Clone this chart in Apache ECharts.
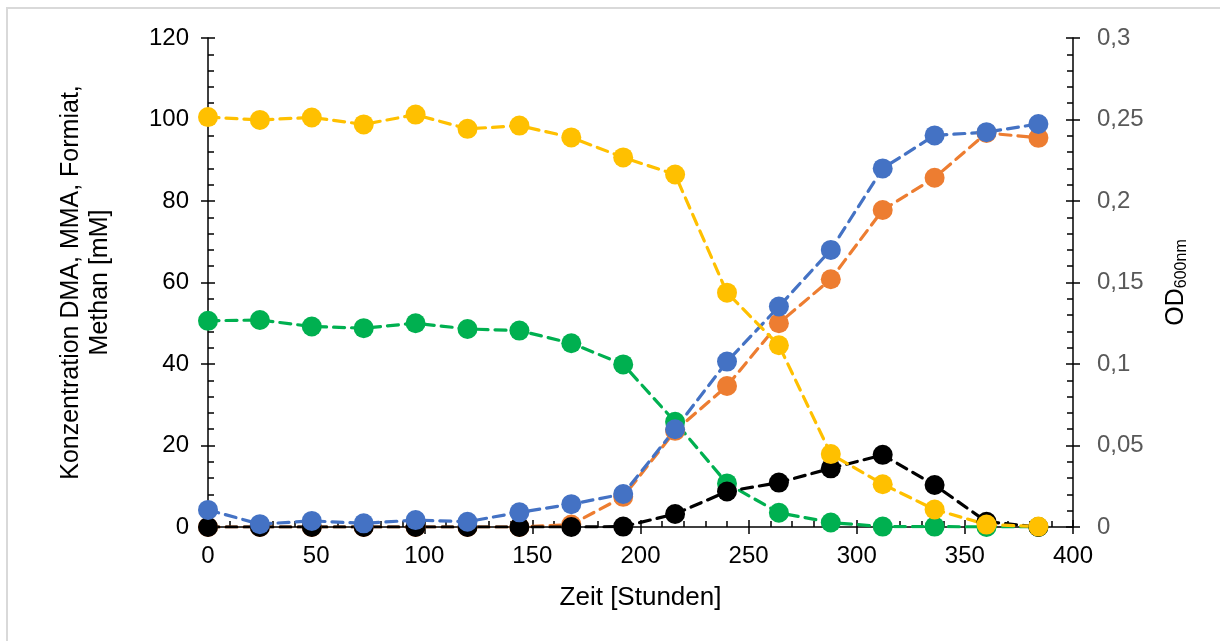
<!DOCTYPE html>
<html>
<head>
<meta charset="utf-8">
<script src="https://cdn.jsdelivr.net/npm/echarts@6/dist/echarts.min.js"></script>
<style>
html,body{margin:0;padding:0;background:#fff;}
#chart{width:1220px;height:641px;}
</style>
</head>
<body>
<div id="chart"></div>
<script>
// Time points [h]
const hours = [0, 24, 48, 72, 96, 120, 144, 168, 192, 216, 240, 264, 288, 312, 336, 360, 384];
// Series values [mM]
const yellowVals = [100.6, 99.9, 100.5, 98.8, 101.2, 97.7, 98.5, 95.6, 90.7, 86.5, 57.5, 44.6, 17.9, 10.5, 4.3, 0.6, 0.1];
const greenVals  = [50.6, 50.8, 49.2, 48.8, 50.0, 48.6, 48.2, 45.1, 39.9, 25.8, 10.7, 3.5, 1.1, 0.1, 0.1, 0, 0];
const orangeVals = [0, 0, 0, 0, 0, 0, 0, 0.6, 7.4, 23.6, 34.6, 50.0, 60.8, 77.8, 85.7, 96.7, 95.5];
const blueVals   = [4.2, 0.7, 1.5, 0.9, 1.7, 1.3, 3.6, 5.6, 8.1, 24.0, 40.6, 54.1, 68.0, 88.0, 96.1, 96.9, 98.9];
const blackVals  = [0, 0, 0, 0, 0, 0, 0, 0, 0.1, 3.2, 8.7, 10.9, 14.4, 17.7, 10.3, 1.3, 0];
// Axis settings
const xTicks = {min: 0, max: 400, interval: 50};
const leftTicks = {min: 0, max: 120, interval: 20};
const rightTicks = {min: 0, max: 0.3, interval: 0.05};

const pairs = v => hours.map((h, i) => [h, v[i]]);
const FONT = 'Liberation Sans, Arial, sans-serif';

function mk(name, vals, color) {
  return {
    name: name, type: 'line', xAxisIndex: 0, yAxisIndex: 0,
    data: pairs(vals),
    symbol: 'circle', symbolSize: 20,
    itemStyle: {color: color, borderWidth: 0, opacity: 1},
    emphasis: {disabled: true},
    lineStyle: {color: color, width: 3.2, type: [11, 7], cap: 'round'},
    animation: false
  };
}

const chart = echarts.init(document.getElementById('chart'));
const axisLineStyle = {color: '#000', width: 1.5};
chart.setOption({
  backgroundColor: '#fff',
  animation: false,
  grid: {left: 208, right: 147, top: 38, bottom: 114},
  graphic: [{type: 'rect', shape: {x: 7, y: 8, width: 1400, height: 800}, style: {fill: 'none', stroke: '#d9d9d9', lineWidth: 2}, silent: true}],
  xAxis: [
    {type: 'value', position: 'bottom', min: xTicks.min, max: xTicks.max, interval: xTicks.interval,
     axisLine: {show: true, onZero: false, lineStyle: axisLineStyle},
     axisTick: {show: true, inside: false, length: 7, lineStyle: axisLineStyle},
     axisLabel: {color: '#000', fontSize: 24, fontFamily: FONT, margin: 17},
     splitLine: {show: false},
     name: 'Zeit [Stunden]', nameLocation: 'middle', nameGap: 58,
     nameTextStyle: {color: '#000', fontSize: 26, fontFamily: FONT}},
    {type: 'value', position: 'bottom', min: xTicks.min, max: xTicks.max, interval: xTicks.interval,
     axisLine: {show: false, onZero: false},
     axisTick: {show: true, inside: true, length: 7, lineStyle: axisLineStyle},
     minorTick: {show: true, splitNumber: 5, length: 6, lineStyle: {color: '#000', width: 1.5}},
     axisLabel: {show: false}, splitLine: {show: false}}
  ],
  yAxis: [
    {type: 'value', position: 'left', min: leftTicks.min, max: leftTicks.max, interval: leftTicks.interval,
     axisLine: {show: true, onZero: false, lineStyle: axisLineStyle},
     axisTick: {show: true, inside: false, length: 7, lineStyle: axisLineStyle},
     axisLabel: {color: '#000', fontSize: 24, fontFamily: FONT, margin: 19},
     splitLine: {show: false},
     name: 'Konzentration DMA, MMA, Formiat,\nMethan [mM]', nameLocation: 'middle', nameRotate: 90, nameGap: 93,
     nameTextStyle: {color: '#000', fontSize: 25, fontFamily: FONT, lineHeight: 29}},
    {type: 'value', position: 'left', min: leftTicks.min, max: leftTicks.max, interval: leftTicks.interval,
     axisLine: {show: false, onZero: false},
     axisTick: {show: true, inside: true, length: 7, lineStyle: axisLineStyle},
     minorTick: {show: true, splitNumber: 5, length: 6, lineStyle: {color: '#000', width: 1.5}},
     axisLabel: {show: false}, splitLine: {show: false}},
    {type: 'value', position: 'right', min: rightTicks.min, max: rightTicks.max, interval: rightTicks.interval,
     axisLine: {show: true, onZero: false, lineStyle: axisLineStyle},
     axisTick: {show: true, inside: false, length: 7, lineStyle: axisLineStyle},
     axisLabel: {color: '#595959', fontSize: 24, fontFamily: FONT, margin: 24,
       formatter: v => String(Math.round(v * 100) / 100).replace('.', ',')},
     splitLine: {show: false},
     name: '{a|OD}{b|600nm}', nameLocation: 'middle', nameRotate: 90, nameGap: 90,
     nameTextStyle: {color: '#000', fontFamily: FONT,
       rich: {a: {fontSize: 25, fontFamily: FONT, color: '#000'},
              b: {fontSize: 16, fontFamily: FONT, color: '#000', padding: [11, 0, 0, 0]}}}},
    {type: 'value', position: 'right', min: rightTicks.min, max: rightTicks.max, interval: rightTicks.interval,
     axisLine: {show: false, onZero: false},
     axisTick: {show: true, inside: true, length: 7, lineStyle: axisLineStyle},
     minorTick: {show: true, splitNumber: 5, length: 6, lineStyle: {color: '#000', width: 1.5}},
     axisLabel: {show: false}, splitLine: {show: false}}
  ],
  series: [
    mk('MMA', greenVals, '#00B050'),
    mk('Methan', orangeVals, '#ED7D31'),
    mk('Formiat', blackVals, '#000000'),
    mk('OD', blueVals, '#4472C4'),
    mk('DMA', yellowVals, '#FFC000')
  ]
});
</script>
</body>
</html>
